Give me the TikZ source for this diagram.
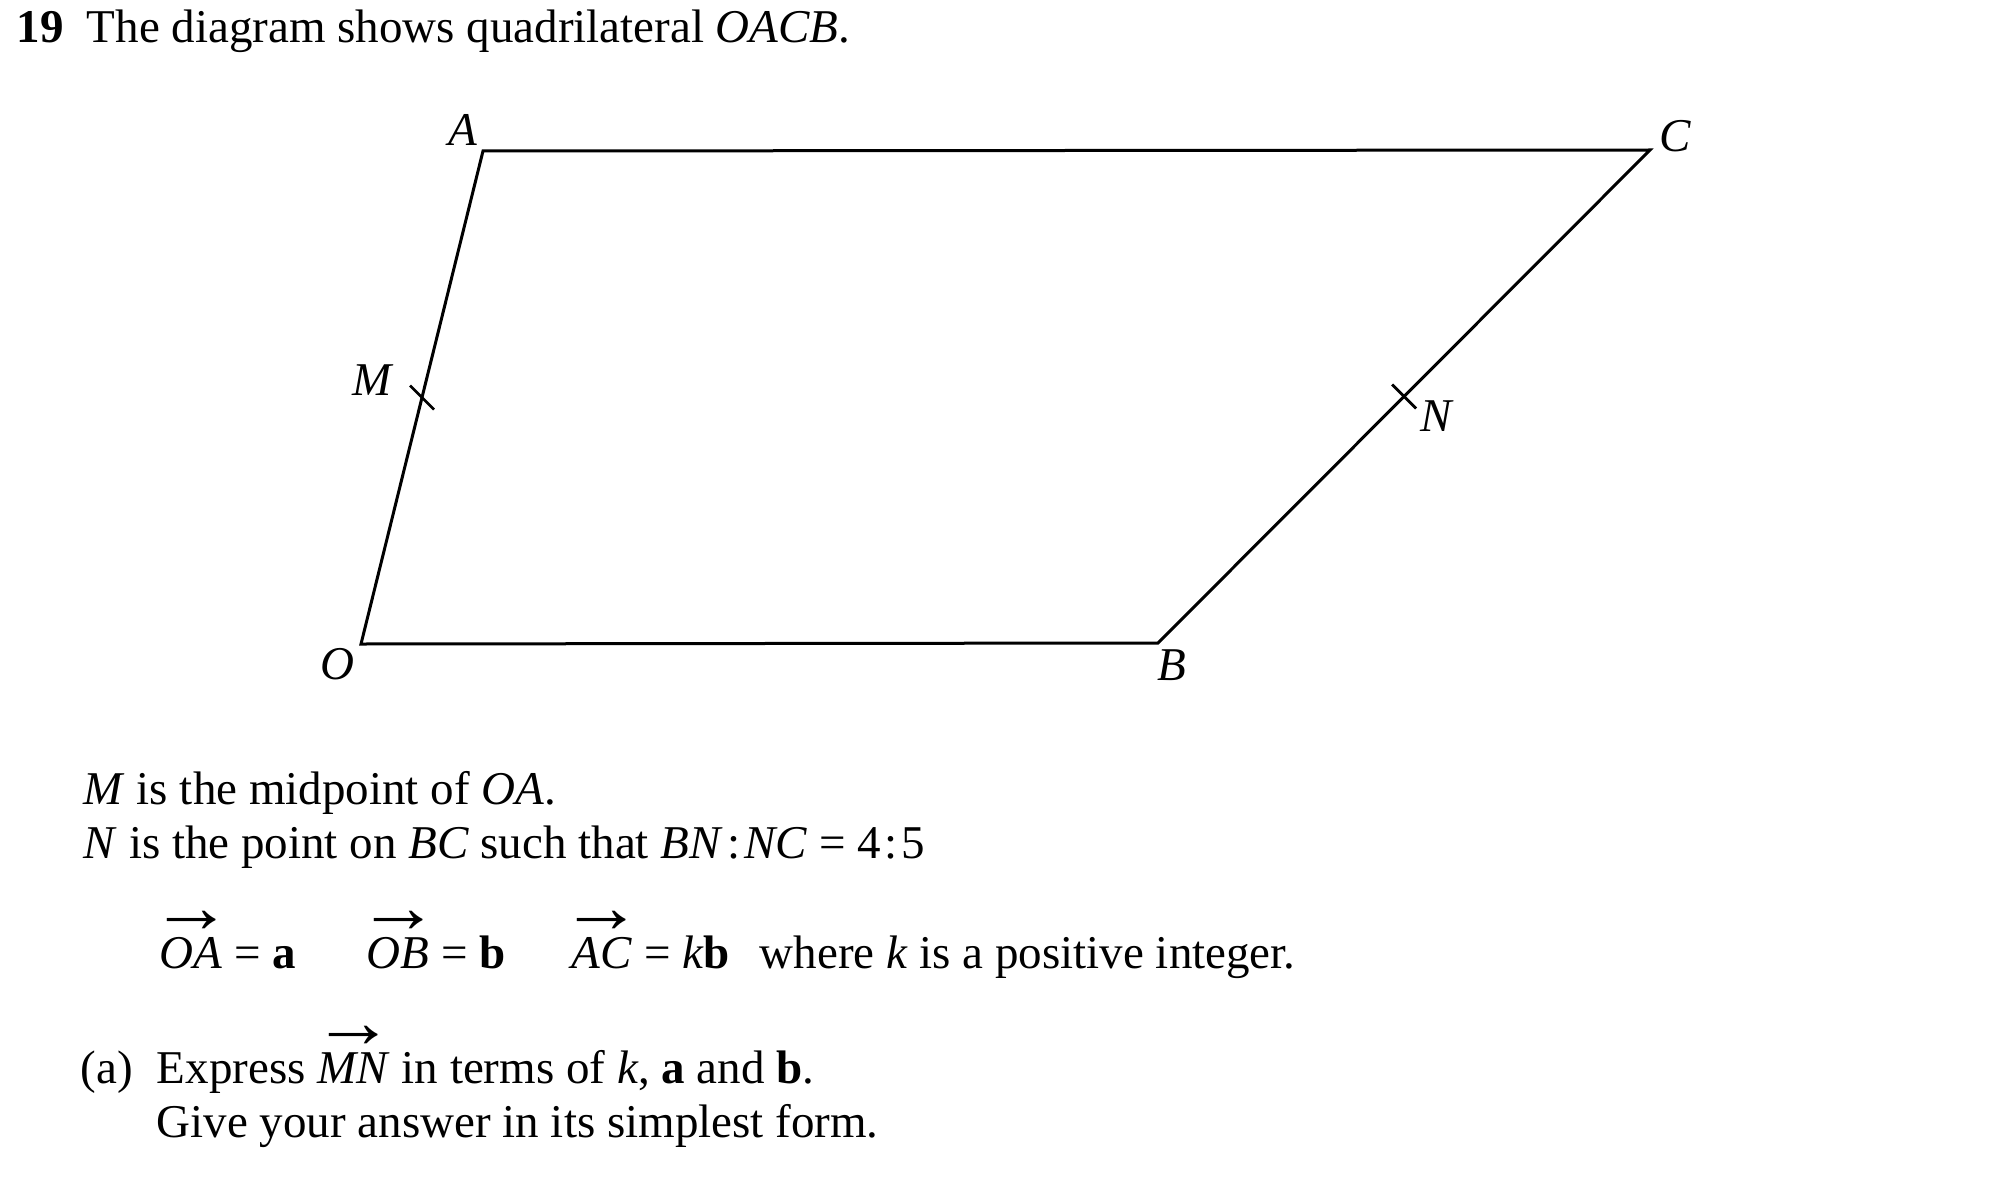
\documentclass[tikz,border=0pt]{standalone}
\usepackage{fontspec}
\setmainfont{Liberation Serif}
\usetikzlibrary{calc}
\newcommand{\vecto}[1]{\ooalign{\textit{#1}\cr\hidewidth\raisebox{0.76em}{\scalebox{1.75}[1.6]{→}}\hidewidth\cr}}

\begin{document}
\begin{tikzpicture}[x=0.25pt,y=-0.25pt,
    every node/.style={font=\fontsize{11.75pt}{14pt}\selectfont},
    txt/.style={anchor=base west,inner sep=0pt},
    lbl/.style={inner sep=0pt},
    side/.style={line width=0.75pt,line join=miter},
    tick/.style={line width=0.7pt}]
    \useasboundingbox (0,0) rectangle (2000,1187);

    \node[txt] (num) at (16,43) {\textbf{19}};
    \node[txt] (title) at (86,43) {The diagram shows quadrilateral \textit{OACB}.};

    \coordinate (O) at (361,644);
    \coordinate (A) at (483,151);
    \coordinate (C) at (1650,150);
    \coordinate (B) at (1158,643);
    \coordinate (M) at ($(O)!0.5!(A)$);
    \coordinate (N) at ($(B)!0.5!(C)$);

    \draw[side] (O) -- (A) -- (C) -- (B) -- cycle;
    \draw[tick] ($(M)+(-12,-12)$) -- ($(M)+(12,12)$);
    \draw[tick] ($(N)+(-12,-12)$) -- ($(N)+(12,12)$);

    \node[lbl] (lO) at ($(O)+(-24,20)$) {\textit{O}};
    \node[lbl] (lA) at ($(A)+(-20,-21)$) {\textit{A}};
    \node[lbl] (lC) at ($(C)+(25,-14)$) {\textit{C}};
    \node[lbl] (lB) at ($(B)+(14,22)$) {\textit{B}};
    \node[lbl] (lM) at ($(M)+(-49,-17)$) {\textit{M}};
    \node[lbl] (lN) at ($(N)+(33,20)$) {\textit{N}};

    \node[txt] (mid) at (83,804) {\textit{M} is the midpoint of \textit{OA}.};
    \node[txt] (ratio) at (83,858) {\textit{N} is the point on \textit{BC} such that \textit{BN}\kern1pt:\kern1pt\textit{NC} = 4\kern1pt:\kern1pt5};

    \node[txt] (va) at (159,968) {\vecto{OA} = \textbf{a}};
    \node[txt] (vb) at (366,968) {\vecto{OB} = \textbf{b}};
    \node[txt] (vc) at (571,968) {\vecto{AC} = \textit{k}\textbf{b}};
    \node[txt] (where) at (759,968) {where \textit{k} is a positive integer.};

    \node[txt] (parta) at (80,1083) {(a)};
    \node[txt] (ask) at (156,1083) {Express \vecto{MN} in terms of \textit{k}, \textbf{a} and \textbf{b}.};
    \node[txt] (form) at (156,1137) {Give your answer in its simplest form.};
\end{tikzpicture}
\end{document}
